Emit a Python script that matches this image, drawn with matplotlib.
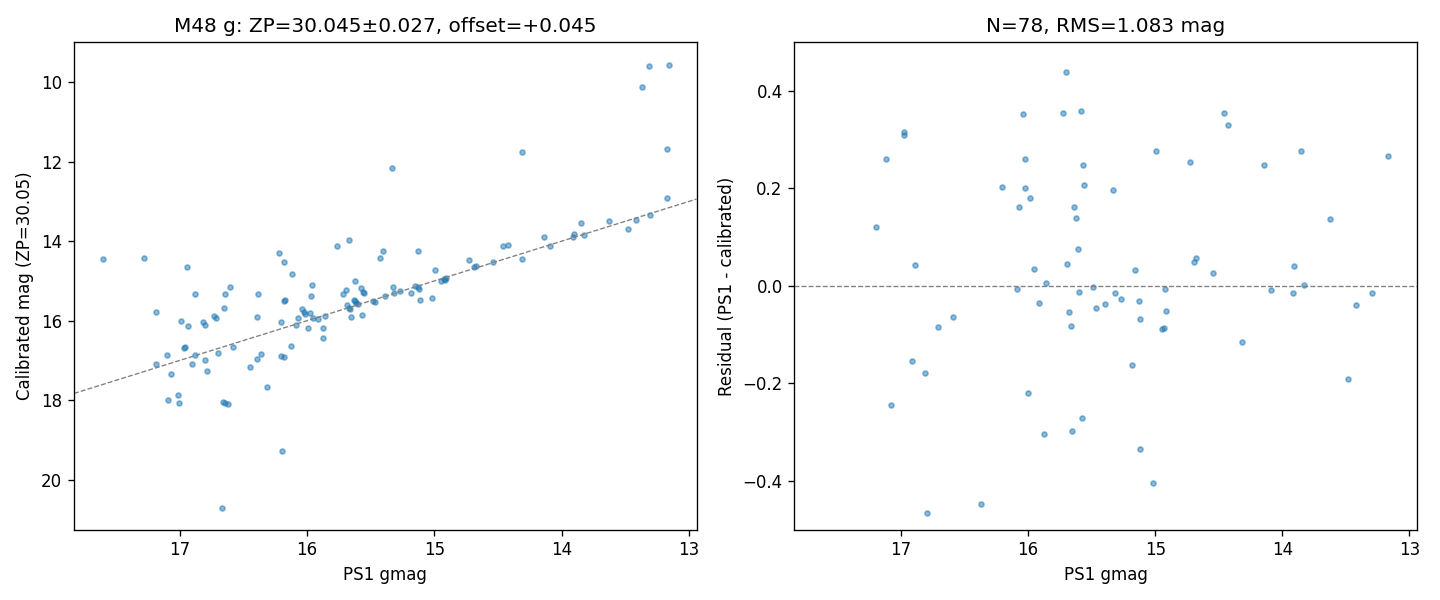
import matplotlib
matplotlib.use("Agg")
import matplotlib.pyplot as plt
import numpy as np

# left panel: PS1 gmag vs calibrated mag
ps1_all = [17.603, 17.281, 17.186, 17.186, 17.100, 17.092, 17.068, 17.013, 17.006, 16.990,
           16.966, 16.958, 16.943, 16.935, 16.903, 16.880, 16.880, 16.817, 16.801, 16.801,
           16.785, 16.733, 16.715, 16.696, 16.668, 16.657, 16.641, 16.620, 16.652, 16.644,
           16.605, 16.581, 16.448, 16.393, 16.385, 16.393, 16.361, 16.314, 16.220, 16.180,
           16.117, 16.206, 16.180, 16.204, 16.196, 16.180, 16.172, 16.125, 16.086, 16.070,
           16.039, 16.023, 16.015, 15.976, 15.992, 15.968, 15.960, 15.952, 15.913, 15.874,
           15.874, 15.858, 15.764, 15.670, 15.717, 15.693, 15.685, 15.670, 15.662, 15.654,
           15.633, 15.622, 15.615, 15.596, 15.622, 15.575, 15.560, 15.552, 15.567, 15.481,
           15.465, 15.426, 15.402, 15.387, 15.332, 15.324, 15.316, 15.269, 15.182, 15.151,
           15.127, 15.119, 15.127, 15.112, 15.017, 14.994, 14.947, 14.923, 14.907, 14.915,
           14.729, 14.687, 14.671, 14.538, 14.459, 14.420, 14.310, 14.310, 14.137, 14.090,
           13.909, 13.901, 13.846, 13.823, 13.626, 13.477, 13.414, 13.367, 13.312, 13.304,
           13.170, 13.170, 13.155]
calib_all = [14.455, 14.430, 15.779, 17.093, 16.867, 17.997, 17.344, 17.872, 18.073, 16.012,
             16.683, 16.666, 14.656, 16.138, 17.093, 15.327, 16.867, 16.038, 16.113, 16.992,
             17.269, 15.887, 15.937, 16.816, 20.711, 18.048, 18.073, 18.098, 15.676, 15.327,
             15.158, 16.666, 17.168, 15.912, 15.327, 16.967, 16.842, 17.661, 14.304, 14.530,
             14.831, 16.882, 16.907, 16.038, 19.279, 15.510, 15.485, 16.631, 16.113, 15.937,
             15.711, 15.786, 15.836, 15.811, 16.178, 15.377, 15.108, 15.937, 15.962, 16.188,
             16.440, 15.887, 14.128, 13.977, 15.324, 15.224, 15.601, 15.676, 15.701, 15.902,
             15.485, 15.510, 15.560, 15.575, 14.998, 15.173, 15.274, 15.299, 15.862, 15.510,
             15.535, 14.430, 14.254, 15.374, 12.168, 15.158, 15.299, 15.249, 15.299, 15.133,
             15.158, 15.208, 14.254, 15.485, 15.435, 14.731, 14.998, 14.947, 14.922, 14.972,
             14.480, 14.656, 14.631, 14.530, 14.128, 14.103, 11.766, 14.455, 13.902, 14.128,
             13.892, 13.817, 13.540, 13.852, 13.500, 13.701, 13.475, 10.133, 9.606, 13.349,
             11.691, 12.922, 9.580]

# right panel: residuals
ps1_res = [16.974, 16.974, 17.116, 16.209, 17.195, 16.887, 16.595, 16.708, 16.913, 16.808,
           17.077, 16.374, 16.800, 15.704, 16.043, 15.727, 15.585, 14.994, 14.725, 16.027,
           15.570, 16.027, 15.562, 15.333, 15.988, 16.075, 15.641, 15.625, 15.609, 15.696,
           15.956, 15.159, 14.694, 14.678, 14.544, 15.862, 16.090, 15.491, 15.601, 15.317,
           15.270, 14.923, 15.128, 15.917, 15.396, 15.467, 15.680, 14.915, 15.120, 15.664,
           14.946, 14.931, 15.183, 16.004, 15.578, 15.877, 15.656, 15.120, 15.017, 14.457,
           14.426, 13.850, 14.142, 13.171, 13.621, 13.905, 14.086, 13.913, 13.826, 13.297,
           13.416, 14.315, 13.479]
resid = [0.316, 0.310, 0.260, 0.202, 0.120, 0.042, -0.064, -0.085, -0.154, -0.179,
         -0.245, -0.448, -0.466, 0.438, 0.352, 0.354, 0.358, 0.276, 0.254, 0.260,
         0.248, 0.200, 0.207, 0.196, 0.180, 0.161, 0.161, 0.139, 0.075, 0.045,
         0.034, 0.032, 0.049, 0.057, 0.026, 0.006, -0.007, -0.003, -0.013, -0.015,
         -0.027, -0.007, -0.031, -0.035, -0.038, -0.046, -0.054, -0.052, -0.068, -0.083,
         -0.089, -0.087, -0.163, -0.220, -0.271, -0.304, -0.298, -0.335, -0.405, 0.354,
         0.330, 0.276, 0.248, 0.266, 0.137, 0.040, -0.009, -0.015, 0.001, -0.015,
         -0.040, -0.115, -0.191]

fig, (ax1, ax2) = plt.subplots(1, 2, figsize=(12, 5), dpi=120)
fig.subplots_adjust(left=0.0514, right=0.984, top=0.93, bottom=0.117, wspace=0.157)

ax1.scatter(ps1_all, calib_all, s=9, alpha=0.5, color='C0')
xl = (17.83, 12.94)
ax1.plot(xl, xl, '--', color='gray', lw=0.8)
ax1.set_xlim(xl)
ax1.set_ylim(21.26, 8.99)
ax1.set_xlabel('PS1 gmag')
ax1.set_ylabel('Calibrated mag (ZP=30.05)')
ax1.set_title('M48 g: ZP=30.045±0.027, offset=+0.045')

ax2.scatter(ps1_res, resid, s=9, alpha=0.5, color='C0')
ax2.axhline(0, color='gray', ls='--', lw=0.8)
ax2.set_xlim(17.84, 12.94)
ax2.set_ylim(-0.5, 0.5)
ax2.set_xlabel('PS1 gmag')
ax2.set_ylabel('Residual (PS1 - calibrated)')
ax2.set_title('N=78, RMS=1.083 mag')

fig.savefig('out.png')
